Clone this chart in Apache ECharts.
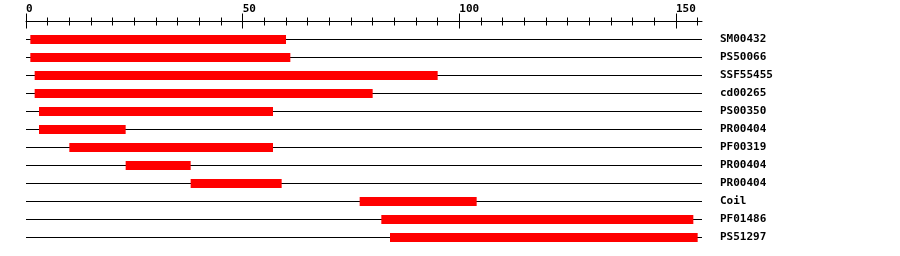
<!DOCTYPE html>
<html>
<head>
<meta charset="utf-8">
<script src="https://cdn.jsdelivr.net/npm/echarts@6/dist/echarts.min.js"></script>
<style>
html,body{margin:0;padding:0;background:#fff;}
#chart{width:900px;height:256px;}
</style>
</head>
<body>
<div id="chart"></div>
<script>
// ---- data ----
var categories = ['SM00432','PS50066','SSF55455','cd00265','PS00350','PR00404','PF00319','PR00404','PR00404','Coil','PF01486','PS51297'];
var starts = [1, 1, 2, 2, 3, 3, 10, 23, 38, 77, 82, 84];
var ends   = [60, 61, 95, 80, 57, 23, 57, 38, 59, 104, 154, 155];
var seqLength = 156;
var majorTicks = [0, 50, 100, 150];
var minorTicks = [5,10,15,20,25,30,35,40,45,55,60,65,70,75,80,85,90,95,105,110,115,120,125,130,135,140,145,155];

var FONT = 'DejaVu Sans Mono';

var domainData = categories.map(function (c, i) { return [starts[i], ends[i], i]; });
var lineData = categories.map(function (c, i) { return [0, seqLength, i]; });

function tickAxis(values, len, inside, showLine, showLabel) {
  return {
    type: 'value', position: 'top', offset: 9, min: 0, max: seqLength, interval: 50,
    axisLine: { show: showLine, lineStyle: { color: '#000', width: 1 } },
    axisTick: { show: true, inside: inside, length: len, customValues: values, lineStyle: { color: '#000', width: 1 } },
    axisLabel: showLabel ? {
      show: true, customValues: majorTicks, align: 'left', margin: 7,
      color: '#000', fontFamily: FONT, fontWeight: 'bold', fontSize: 11
    } : { show: false },
    splitLine: { show: false }
  };
}

var chart = echarts.init(document.getElementById('chart'), null, { renderer: 'canvas' });
chart.setOption({
  animation: false,
  backgroundColor: '#fff',
  grid: { left: 26, right: 198, top: 30.5, height: 216 },
  xAxis: [
    tickAxis(majorTicks, 8, false, true, true),
    tickAxis(majorTicks, 7, true, false, false),
    tickAxis(minorTicks, 4, false, false, false),
    tickAxis(minorTicks, 4, true, false, false)
  ],
  yAxis: {
    type: 'category', position: 'right', inverse: true, data: categories,
    axisLine: { show: false }, axisTick: { show: false }, splitLine: { show: false },
    axisLabel: { align: 'left', margin: 18, color: '#000', fontFamily: FONT, fontWeight: 'bold', fontSize: 11 }
  },
  series: [
    {
      type: 'custom', xAxisIndex: 0, data: lineData, encode: { x: [0, 1], y: 2 },
      renderItem: function (params, api) {
        var a = api.coord([api.value(0), api.value(2)]);
        var b = api.coord([api.value(1), api.value(2)]);
        return { type: 'line', shape: { x1: a[0], y1: a[1], x2: b[0], y2: b[1] },
          style: { stroke: '#000', lineWidth: 1 } };
      }
    },
    {
      type: 'custom', xAxisIndex: 0, data: domainData, encode: { x: [0, 1], y: 2 },
      renderItem: function (params, api) {
        var a = api.coord([api.value(0), api.value(2)]);
        var b = api.coord([api.value(1), api.value(2)]);
        var h = 9;
        return { type: 'rect', shape: { x: a[0], y: a[1] - h / 2, width: b[0] - a[0], height: h },
          style: { fill: '#ff0000' } };
      }
    }
  ]
});
</script>
</body>
</html>
